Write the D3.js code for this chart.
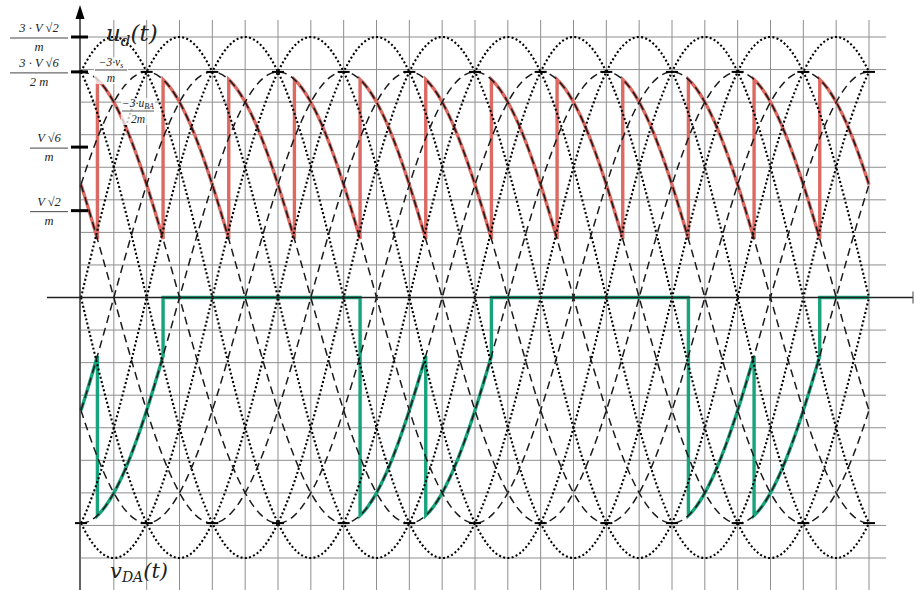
<!DOCTYPE html>
<html>
<head>
<meta charset="utf-8">
<script src="https://cdnjs.cloudflare.com/ajax/libs/d3/7.8.5/d3.min.js"></script>
<style>
  body { margin: 0; background: #fff; }
  svg { display: block; }
</style>
</head>
<body>
<svg id="chart" width="915" height="590"></svg>
<script>
// amplitudes in V/m units, angles in degrees
var dottedAmp = 3 * Math.SQRT2;            // 3·V·√2 / m
var dashedAmp = 3 * Math.sqrt(6) / 2;      // 3·V·√6 / 2m
var dottedPeaks = [30, 90, 150, 210, 270, 330];
var dashedPeaks = [0, 60, 120, 180, 240, 300];
var fireAngle = 15;                        // switching instant after each peak
var segPeaks = [-60, 0, 60, 120, 180, 240, 300, 360, 420, 480, 540, 600, 660];
var greenOn  = [1, 1, 0, 0, 0, 1, 1, 0, 0, 0, 1, 1, 0];
var tickVals = [3 * Math.SQRT2, 3 * Math.sqrt(6) / 2, Math.sqrt(6), Math.SQRT2];
var tickNum = ['3 · V  √2', '3 · V  √6', 'V  √6', 'V  √2'];
var tickDen = ['m', '2 m', 'm', 'm'];

document.addEventListener('DOMContentLoaded', function () {
    drawChart();
});

function drawChart() {
    const svg = d3.select('#chart');
    const x = d3.scaleLinear().domain([0, 720]).range([81, 869]);
    const y = d3.scaleLinear().domain([-dottedAmp, dottedAmp]).range([558, 37]);
    const rad = Math.PI / 180;

    // grid
    const grid = svg.append('g').attr('stroke', '#8e8e8e').attr('stroke-width', 1);
    grid.selectAll('line.v')
        .data(d3.range(30, 721, 30))
        .enter().append('line')
        .attr('x1', d => x(d)).attr('x2', d => x(d))
        .attr('y1', 20).attr('y2', 590);
    grid.selectAll('line.h')
        .data(d3.range(-8, 9).filter(k => k != 0))
        .enter().append('line')
        .attr('x1', 81).attr('x2', 886)
        .attr('y1', k => y(k * dottedAmp / 8)).attr('y2', k => y(k * dottedAmp / 8));

    const line = d3.line().x(d => x(d[0])).y(d => y(d[1]));
    const thetas = d3.range(0, 720.01, 1);

    // red u_d and green v_DA drawn first, reference curves over them
    let red = [], green = [];
    segPeaks.forEach(function (p, i) {
        let a = Math.max(0, p + fireAngle), b = Math.min(720, p + 60 + fireAngle);
        if (b <= a) return;
        d3.range(a, b + 0.01, 1).forEach(function (t) {
            let v = dashedAmp * Math.cos((t - p) * rad);
            red.push([t, v]);
            green.push([t, greenOn[i] ? -v : 0]);
        });
    });
    svg.append('path').attr('d', line(red))
        .attr('fill', 'none').attr('stroke', '#dc6a62').attr('stroke-width', 3.4);
    svg.append('path').attr('d', line(green))
        .attr('fill', 'none').attr('stroke', '#17a37c').attr('stroke-width', 3.4);

    // dotted sinusoids 3·v/m
    svg.append('g').selectAll('path')
        .data(dottedPeaks)
        .enter().append('path')
        .attr('d', p => line(thetas.map(t => [t, dottedAmp * Math.cos((t - p) * rad)])))
        .attr('fill', 'none').attr('stroke', '#000')
        .attr('stroke-width', 2.1).attr('stroke-dasharray', '2,2.3');

    // dashed sinusoids 3·u/2m
    svg.append('g').selectAll('path')
        .data(dashedPeaks)
        .enter().append('path')
        .attr('d', p => line(thetas.map(t => [t, dashedAmp * Math.cos((t - p) * rad)])))
        .attr('fill', 'none').attr('stroke', '#1a1a1a')
        .attr('stroke-width', 1.5).attr('stroke-dasharray', '8,5');

    // small marks where the curves cross
    const marks = [];
    d3.range(0, 721, 60).forEach(t => { marks.push([t, dashedAmp]); marks.push([t, -dashedAmp]); });
    svg.append('g').selectAll('line')
        .data(marks)
        .enter().append('line')
        .attr('x1', d => x(d[0]) - 6).attr('x2', d => x(d[0]) + 6)
        .attr('y1', d => y(d[1])).attr('y2', d => y(d[1]))
        .attr('stroke', '#000').attr('stroke-width', 2);

    // axes
    svg.append('line').attr('x1', 47).attr('x2', 913).attr('y1', y(0)).attr('y2', y(0))
        .attr('stroke', '#222').attr('stroke-width', 1.3);
    svg.append('line').attr('x1', 913).attr('x2', 913).attr('y1', y(0) - 6).attr('y2', y(0) + 6)
        .attr('stroke', '#444').attr('stroke-width', 1);
    svg.append('line').attr('x1', 80).attr('x2', 80).attr('y1', 16).attr('y2', 590)
        .attr('stroke', '#222').attr('stroke-width', 1.4);
    svg.append('path').attr('d', 'M80,5 L75.5,19 L84.5,19 Z').attr('fill', '#000');

    // y ticks and fraction labels
    const tk = svg.append('g');
    tickVals.forEach(function (v, i) {
        let yy = y(v);
        tk.append('line').attr('x1', 71).attr('x2', 88).attr('y1', yy).attr('y2', yy)
            .attr('stroke', '#000').attr('stroke-width', 3);
        let w = i < 2 ? 58 : 38, cx = 68 - w / 2;
        tk.append('text').attr('x', cx).attr('y', yy - 5).attr('text-anchor', 'middle')
            .attr('font-family', 'Liberation Serif').attr('font-style', 'italic')
            .attr('font-size', 12.5).attr('fill', '#222').text(tickNum[i]);
        tk.append('line').attr('x1', 68 - w).attr('x2', 68).attr('y1', yy + 1).attr('y2', yy + 1)
            .attr('stroke', '#444').attr('stroke-width', 1);
        tk.append('text').attr('x', cx).attr('y', yy + 14).attr('text-anchor', 'middle')
            .attr('font-family', 'Liberation Serif').attr('font-style', 'italic')
            .attr('font-size', 12.5).attr('fill', '#222').text(tickDen[i]);
    });

    // curve names
    const ud = svg.append('text').attr('x', 106).attr('y', 41)
        .attr('font-family', 'DejaVu Serif').attr('font-style', 'italic')
        .attr('font-size', 23).attr('fill', '#222');
    ud.append('tspan').text('u');
    ud.append('tspan').attr('font-size', 15).attr('dy', 5).text('d');
    ud.append('tspan').attr('dy', -5).text('(t)');

    const vd = svg.append('text').attr('x', 110).attr('y', 578)
        .attr('font-family', 'DejaVu Serif').attr('font-style', 'italic')
        .attr('font-size', 21).attr('fill', '#222');
    vd.append('tspan').text('v');
    vd.append('tspan').attr('font-size', 14).attr('dy', 4).text('DA');
    vd.append('tspan').attr('dy', -4).text('(t)');

    // small fraction notes on the reference curves
    const notes = [
        { num: '−3·v', sub: 's', den: 'm', cx: 111, yb: 70 },
        { num: '−3·u', sub: 'BA', den: '2m', cx: 138, yb: 111 }
    ];
    notes.forEach(function (n) {
        svg.append('rect').attr('x', n.cx - 17).attr('y', n.yb - 13).attr('width', 34).attr('height', 27)
            .attr('fill', '#fff').attr('opacity', 0.75);
        let t = svg.append('text').attr('x', n.cx).attr('y', n.yb - 4).attr('text-anchor', 'middle')
            .attr('font-family', 'Liberation Serif').attr('font-style', 'italic')
            .attr('font-size', 11.5).attr('fill', '#222');
        t.append('tspan').text(n.num);
        t.append('tspan').attr('font-size', 8).attr('dy', 2).text(n.sub);
        svg.append('line').attr('x1', n.cx - 16).attr('x2', n.cx + 16).attr('y1', n.yb).attr('y2', n.yb)
            .attr('stroke', '#444').attr('stroke-width', 0.9);
        svg.append('text').attr('x', n.cx).attr('y', n.yb + 12).attr('text-anchor', 'middle')
            .attr('font-family', 'Liberation Serif').attr('font-style', 'italic')
            .attr('font-size', 11.5).attr('fill', '#222').text(n.den);
    });
}
</script>
</body>
</html>
